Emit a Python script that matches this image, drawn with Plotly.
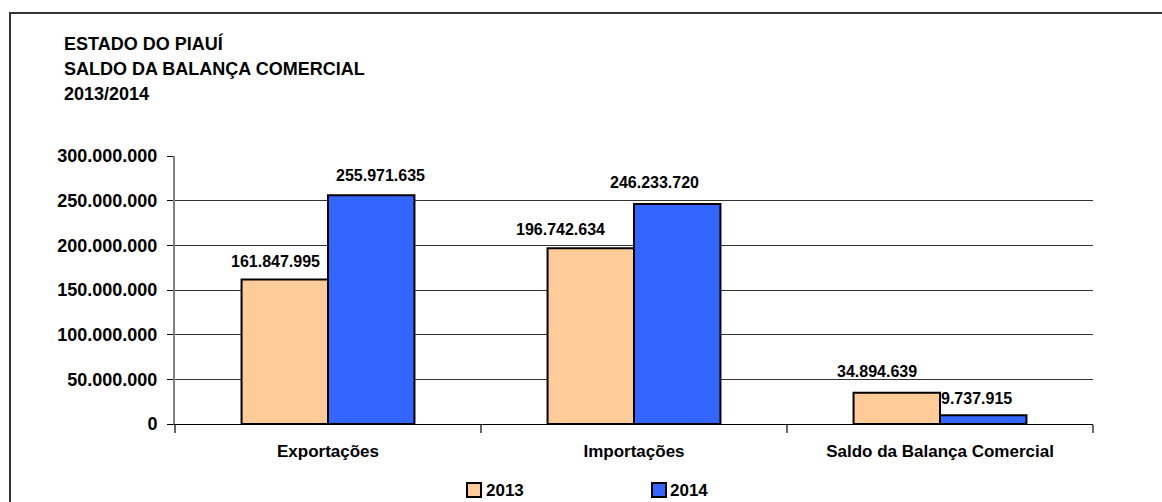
import plotly.graph_objects as go

# ---- data ----
categories = ["Exportações", "Importações", "Saldo da Balança Comercial"]
series_names = ["2013", "2014"]
values_2013 = [161847995, 196742634, 34894639]
values_2014 = [255971635, 246233720, 9737915]
y_ticks = [0, 50000000, 100000000, 150000000, 200000000, 250000000, 300000000]
title_lines = ["ESTADO DO PIAUÍ", "SALDO DA BALANÇA COMERCIAL", "2013/2014"]

# ---- style ----
colors = ["#FFCC99", "#3366FF"]
FONT = "Liberation Sans, Arial, sans-serif"
W, H = 1162, 502
ML, MR, MT, MB = 175, 69, 156, 78
PW, PH = W - ML - MR, H - MT - MB
# per-label nudges (pixels) for the value labels: (dx, dy above bar top)
label_nudge_2013 = [(-10, 18), (-31, 19), (-20, 21)]
label_nudge_2014 = [(9, 20), (-23, 22), (-7, 17)]
BAR_HALF = 43


def px_x(px):
    return (px - ML) / PW


def px_y(py):
    return (H - MB - py) / PH


def fmt(v):
    return f"{v:,}".replace(",", ".")


fig = go.Figure()
for name, vals, col in zip(series_names, [values_2013, values_2014], colors):
    fig.add_trace(go.Bar(
        x=categories, y=vals, name=name,
        marker=dict(color=col, line=dict(color="black", width=2)),
        showlegend=False,
    ))

annotations = []
# value labels above each bar
for vals, nudges, side in [(values_2013, label_nudge_2013, -1), (values_2014, label_nudge_2014, 1)]:
    for cat, v, (dx, dy) in zip(categories, vals, nudges):
        annotations.append(dict(
            x=cat, y=v, xref="x", yref="y", text=fmt(v), showarrow=False,
            xshift=side * BAR_HALF + dx, yshift=dy, xanchor="center", yanchor="middle",
            font=dict(family=FONT, size=16, color="black", weight="bold"),
        ))

# title block
for line, cy in zip(title_lines, [44, 69, 94]):
    annotations.append(dict(
        x=px_x(62), y=px_y(cy), xref="paper", yref="paper", text=line,
        showarrow=False, xanchor="left", yanchor="middle",
        font=dict(family=FONT, size=18, color="black", weight="bold"),
    ))

shapes = []
# outer chart frame
shapes.append(dict(type="rect", xref="paper", yref="paper",
                   x0=px_x(10), x1=px_x(1180), y0=px_y(13), y1=px_y(520),
                   line=dict(color="#333333", width=2), fillcolor="rgba(0,0,0,0)", layer="below"))

# legend: swatches followed by series names
legend_pos = [(467, 484), (652, 668)]
for name, col, (sx, tx) in zip(series_names, colors, legend_pos):
    shapes.append(dict(type="rect", xref="paper", yref="paper",
                       x0=px_x(sx), x1=px_x(sx + 14), y0=px_y(483), y1=px_y(497),
                       line=dict(color="black", width=2), fillcolor=col))
    annotations.append(dict(
        x=px_x(tx), y=px_y(490), xref="paper", yref="paper", text=name,
        showarrow=False, xanchor="left", yanchor="middle",
        font=dict(family=FONT, size=17, color="black", weight="bold"),
    ))

fig.update_layout(
    width=W, height=H,
    margin=dict(l=ML, r=MR, t=MT, b=MB, pad=0),
    paper_bgcolor="white", plot_bgcolor="white",
    barmode="group", bargap=0.435, bargroupgap=0,
    separators=",.",
    annotations=annotations, shapes=shapes,
    showlegend=False,
    font=dict(family=FONT, color="black"),
)
fig.update_xaxes(
    showline=True, linecolor="black", linewidth=1,
    ticks="outside", tickson="boundaries", ticklen=8, tickcolor="#666666", tickwidth=2,
    ticklabelstandoff=12,
    tickfont=dict(family=FONT, size=17, color="black", weight="bold"),
    showgrid=False, zeroline=False,
)
fig.update_yaxes(
    range=[0, 300000000], tickvals=y_ticks, tickformat=",d",
    showline=True, linecolor="#808080", linewidth=2,
    ticks="outside", ticklen=6, tickcolor="black", tickwidth=1,
    ticklabelstandoff=6,
    tickfont=dict(family=FONT, size=18, color="black", weight="bold"),
    showgrid=True, gridcolor="#333333", gridwidth=1, zeroline=False,
)

fig.write_html("out.html")
